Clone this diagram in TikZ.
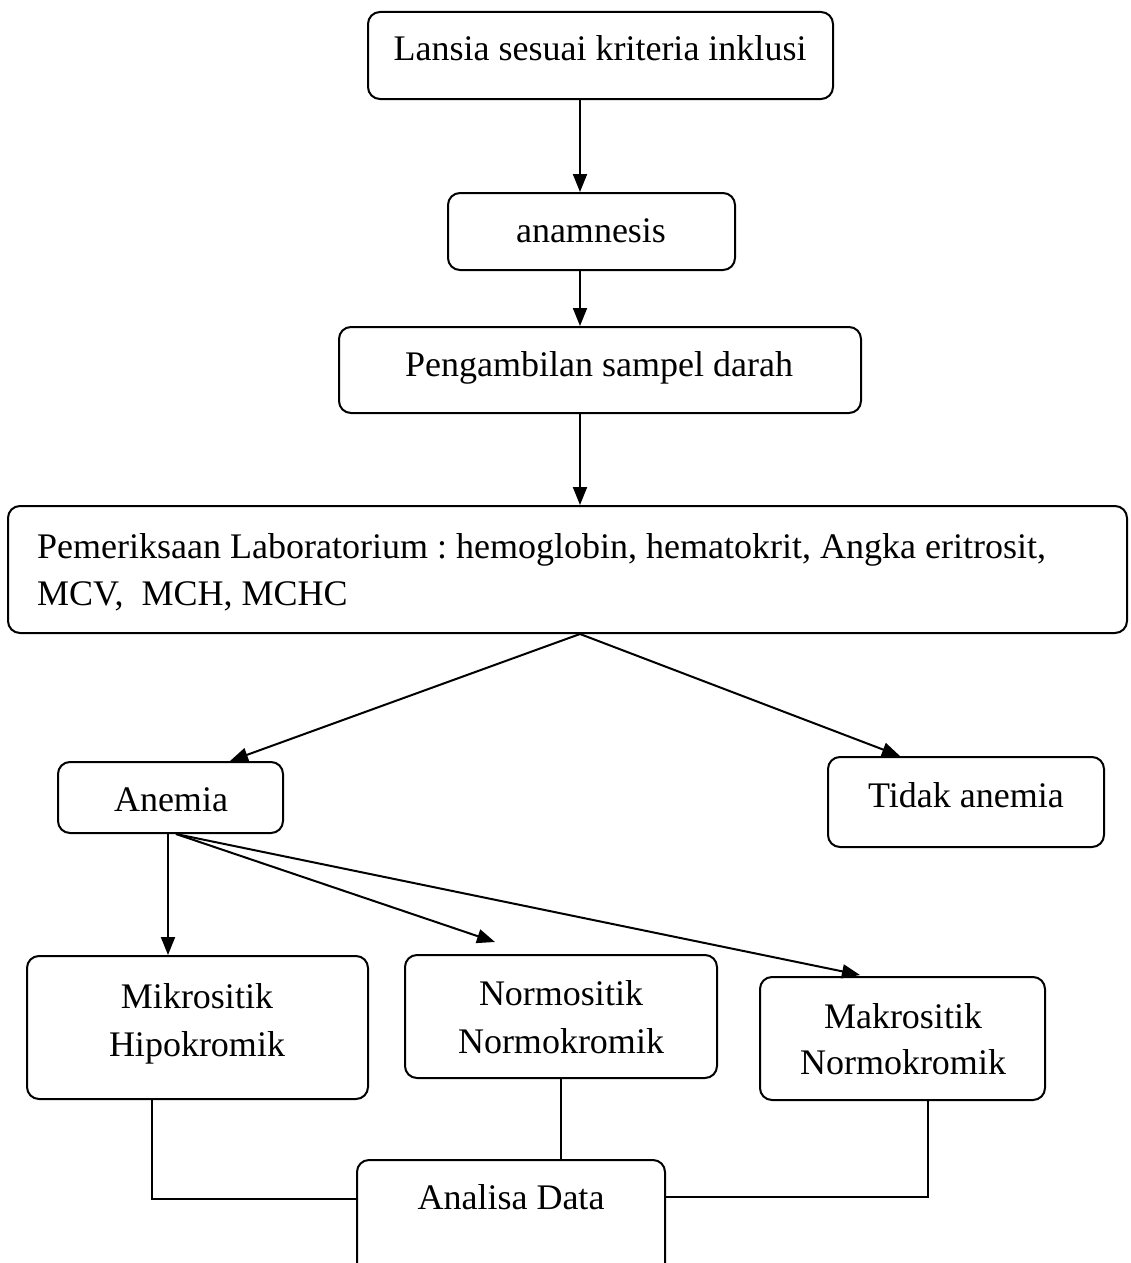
\documentclass[tikz,border=0pt]{standalone}
\usepackage{fontspec}
\setmainfont{Liberation Serif}
\usetikzlibrary{arrows.meta}
\frenchspacing
\begin{document}
\begin{tikzpicture}[x=1pt,y=-1pt,
  box/.style={draw,line width=2pt,rounded corners=12pt,inner sep=0pt},
  txt/.style={anchor=base,inner sep=0pt,font=\fontsize{36}{42}\selectfont},
  arr/.style={line width=2pt,-{Triangle[length=18pt,width=14pt]}},
  ln/.style={line width=2pt}]
\useasboundingbox (0,0) rectangle (1130,1263);
% boxes
\node[box,minimum width=465,minimum height=87] (b1) at (600.5,55.5) {};
\node[box,minimum width=287,minimum height=77] (b2) at (591.5,231.5) {};
\node[box,minimum width=522,minimum height=86] (b3) at (600,370) {};
\node[box,minimum width=1119,minimum height=127] (b4) at (567.5,569.5) {};
\node[box,minimum width=225,minimum height=71] (b5) at (170.5,797.5) {};
\node[box,minimum width=276,minimum height=90] (b6) at (966,802) {};
\node[box,minimum width=341,minimum height=143] (b7) at (197.5,1027.5) {};
\node[box,minimum width=312,minimum height=123] (b8) at (561,1016.5) {};
\node[box,minimum width=285,minimum height=123] (b9) at (902.5,1038.5) {};
\node[box,minimum width=308,minimum height=120] (b10) at (511,1220) {};
% texts
\node[txt] (t1) at (600,61) {Lansia sesuai kriteria inklusi};
\node[txt] (t2) at (591,242) {anamnesis};
\node[txt] (t3) at (599,376) {Pengambilan sampel darah};
\node[txt,anchor=base west] (t4a) at (37,558) {Pemeriksaan Laboratorium : hemoglobin, hematokrit, Angka eritrosit,};
\node[txt,anchor=base west] (t4b) at (37,605) {MCV,\ \ MCH, MCHC};
\node[txt] (t5) at (171,811) {Anemia};
\node[txt] (t6) at (966,807) {Tidak anemia};
\node[txt] (t7a) at (197,1008) {Mikrositik};
\node[txt] (t7b) at (197,1056) {Hipokromik};
\node[txt] (t8a) at (561,1005) {Normositik};
\node[txt] (t8b) at (561,1053) {Normokromik};
\node[txt] (t9a) at (903,1028) {Makrositik};
\node[txt] (t9b) at (903,1074) {Normokromik};
\node[txt] (t10) at (511,1209) {Analisa Data};
% connectors
\draw[arr] (b1.south -| 580,0) -- (b2.north -| 580,0);
\draw[arr] (b2.south -| 580,0) -- (b3.north -| 580,0);
\draw[arr] (b3.south -| 580,0) -- (b4.north -| 580,0);
\coordinate (s4) at (b4.south -| 580,0);
\draw[arr] (s4) -- (b5.north -| 230,0);
\draw[arr] (s4) -- (b6.north -| 900,0);
\coordinate (s5) at (b5.south -| 168,0);
\coordinate (s5b) at (b5.south -| 176,0);
\draw[arr] (s5) -- (b7.north -| 168,0);
\coordinate (n8) at (495,942);
\coordinate (n9) at (860,975);
\draw[arr] (s5b) -- (n8);
\draw[arr] (s5b) -- (n9);
\draw[ln] (b7.south -| 152,0) |- (b10.west |- 0,1199);
\draw[ln] (b8.south) -- (b10.north -| b8.south);
\draw[ln] (b9.south -| 928,0) |- (b10.east |- 0,1197);
\end{tikzpicture}
\end{document}
